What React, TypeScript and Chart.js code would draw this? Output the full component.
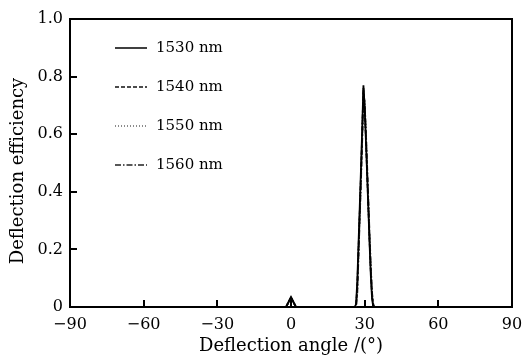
import React, { useEffect, useRef } from "react";
import { Chart, registerables } from "chart.js";

Chart.register(...registerables);

const angles = [-90, -80, -70, -60, -50, -40, -30, -20, -10, -5, -2, -1, 0, 1, 2, 5, 10, 20, 25, 26, 26.5, 27, 27.5, 28, 28.5, 29, 29.5, 30, 30.5, 31, 31.5, 32, 32.5, 33, 33.5, 34, 40, 50, 60, 70, 80, 90];

const eff1530 = [0, 0, 0, 0, 0, 0, 0, 0, 0, 0, 0, 0.018, 0.035, 0.018, 0, 0, 0, 0, 0, 0, 0.01, 0.09, 0.22, 0.35, 0.48, 0.62, 0.77, 0.69, 0.58, 0.46, 0.34, 0.22, 0.11, 0.03, 0, 0, 0, 0, 0, 0, 0, 0];
const eff1540 = [0, 0, 0, 0, 0, 0, 0, 0, 0, 0, 0, 0.017, 0.034, 0.017, 0, 0, 0, 0, 0, 0, 0.005, 0.07, 0.2, 0.33, 0.46, 0.6, 0.76, 0.7, 0.59, 0.47, 0.35, 0.23, 0.12, 0.04, 0.005, 0, 0, 0, 0, 0, 0, 0];
const eff1550 = [0, 0, 0, 0, 0, 0, 0, 0, 0, 0, 0, 0.017, 0.033, 0.017, 0, 0, 0, 0, 0, 0, 0.004, 0.06, 0.19, 0.32, 0.45, 0.59, 0.755, 0.7, 0.6, 0.48, 0.36, 0.24, 0.13, 0.045, 0.008, 0, 0, 0, 0, 0, 0, 0];
const eff1560 = [0, 0, 0, 0, 0, 0, 0, 0, 0, 0, 0, 0.016, 0.032, 0.016, 0, 0, 0, 0, 0, 0, 0.003, 0.05, 0.18, 0.31, 0.44, 0.58, 0.75, 0.71, 0.61, 0.49, 0.37, 0.25, 0.14, 0.05, 0.01, 0, 0, 0, 0, 0, 0, 0];

const seriesLabels = ["1530 nm", "1540 nm", "1550 nm", "1560 nm"];
const xTickValues = [-60, -30, 0, 30, 60];
const yTickValues = [0.2, 0.4, 0.6, 0.8];
const yTitle = "Deflection efficiency";
const xTitle = "Deflection angle /(°)";

const FONT = "'DejaVu Serif', serif";

const framePlugin = {
  id: "frameTicks",
  afterDraw(chart: any) {
    const { ctx, chartArea, scales } = chart;
    const { left, right, top, bottom } = chartArea;
    ctx.save();
    ctx.strokeStyle = "#000";
    ctx.lineWidth = 2;
    ctx.beginPath();
    ctx.moveTo(left - 1, top);
    ctx.lineTo(right, top);
    ctx.lineTo(right, bottom);
    ctx.stroke();
    ctx.beginPath();
    for (const v of xTickValues) {
      const px = Math.round(scales.x.getPixelForValue(v));
      ctx.moveTo(px, bottom);
      ctx.lineTo(px, bottom - 7);
    }
    for (const v of yTickValues) {
      const py = Math.round(scales.y.getPixelForValue(v));
      ctx.moveTo(left, py);
      ctx.lineTo(left + 7, py);
    }
    ctx.stroke();
    // legend
    const ds = chart.data.datasets;
    ctx.font = "15px " + FONT;
    ctx.fillStyle = "#000";
    ctx.textBaseline = "middle";
    ctx.textAlign = "left";
    for (let i = 0; i < ds.length; i++) {
      const y = top + 29 + i * 39;
      ctx.beginPath();
      ctx.strokeStyle = ds[i].borderColor;
      ctx.lineWidth = 1.5;
      ctx.setLineDash(ds[i].borderDash || []);
      ctx.moveTo(left + 45, y);
      ctx.lineTo(left + 77, y);
      ctx.stroke();
      ctx.setLineDash([]);
      ctx.fillText(ds[i].label, left + 86, y);
    }
    // y title
    ctx.translate(18, 171);
    ctx.rotate(-Math.PI / 2);
    ctx.font = "18px " + FONT;
    ctx.textAlign = "center";
    ctx.textBaseline = "middle";
    ctx.fillText(yTitle, 0, 0);
    ctx.restore();
  },
};

export default function App() {
  const ref = useRef<HTMLCanvasElement>(null);
  useEffect(() => {
    if (!ref.current) return;
    const mk = (arr: number[]) => angles.map((a, i) => ({ x: a, y: arr[i] }));
    const styles = [
      { color: "#000", dash: [] as number[] },
      { color: "#111", dash: [4, 2] },
      { color: "#666", dash: [1, 2] },
      { color: "#222", dash: [6, 2, 1.5, 2] },
    ];
    const values = [eff1530, eff1540, eff1550, eff1560];
    const chart = new Chart(ref.current, {
      type: "line",
      data: {
        datasets: values.map((v, i) => ({
          label: seriesLabels[i],
          data: mk(v),
          borderColor: styles[i].color,
          borderDash: styles[i].dash,
          borderWidth: 1.8,
          pointRadius: 0,
          fill: false,
          tension: 0,
        })),
      },
      options: {
        animation: false,
        responsive: false,
        maintainAspectRatio: false,
        layout: { padding: { top: 19, right: 16, left: 0, bottom: 0 } },
        plugins: { legend: { display: false }, tooltip: { enabled: false } },
        scales: {
          x: {
            type: "linear",
            min: -90,
            max: 90,
            afterFit: (s: any) => { s.height = 50; s.paddingRight = 0; s.paddingLeft = 0; },
            grid: { display: false, drawTicks: false },
            border: { display: true, color: "#000", width: 2 },
            ticks: {
              stepSize: 30,
              padding: 8,
              color: "#000",
              font: { family: FONT, size: 16 },
              maxRotation: 0,
              callback: (v: any) => (v < 0 ? "\u2212" + Math.abs(v) : String(v)),
            },
            title: {
              display: true,
              text: xTitle,
              color: "#000",
              font: { family: FONT, size: 18 },
              padding: { top: 0, bottom: 0 },
            },
          },
          y: {
            min: 0,
            max: 1,
            afterFit: (s: any) => { s.width = 70; },
            grid: { display: false, drawTicks: false },
            border: { display: true, color: "#000", width: 2 },
            ticks: {
              stepSize: 0.2,
              padding: 7,
              color: "#000",
              font: { family: FONT, size: 16 },
              callback: (v: any) => (v === 0 ? "0" : Number(v).toFixed(1)),
            },
            title: { display: false },
          },
        },
      },
      plugins: [framePlugin],
    });
    return () => chart.destroy();
  }, []);
  return (
    <div style={{ position: "fixed", left: 0, top: 0, width: 528, height: 357, background: "#fff" }}>
      <canvas ref={ref} width={528} height={357} style={{ width: 528, height: 357 }} />
    </div>
  );
}
